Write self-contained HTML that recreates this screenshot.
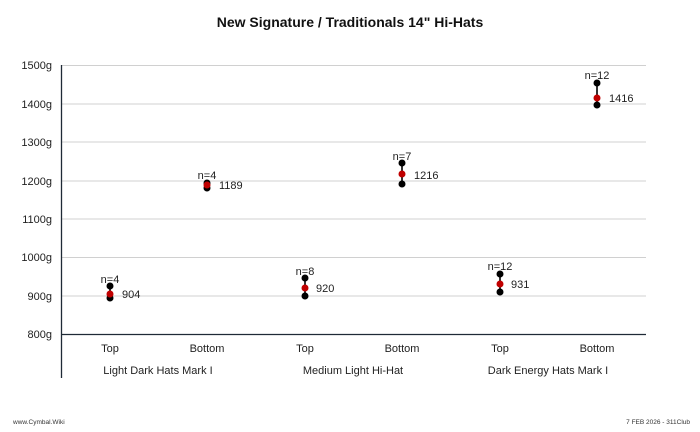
<!DOCTYPE html>
<html><head><style>
body{margin:0;background:#fff;}
svg text{font-family:"Liberation Sans",sans-serif;}
</style></head><body>
<svg width="700" height="427" xmlns="http://www.w3.org/2000/svg">
<text x="350" y="27" text-anchor="middle" font-size="14" font-weight="bold" fill="#111">New Signature / Traditionals 14" Hi-Hats</text>
<g stroke="#d0d0d0" stroke-width="1">
<line x1="61" x2="646" y1="65.5" y2="65.5"/>
<line x1="61" x2="646" y1="104" y2="104"/>
<line x1="61" x2="646" y1="142" y2="142"/>
<line x1="61" x2="646" y1="181" y2="181"/>
<line x1="61" x2="646" y1="219" y2="219"/>
<line x1="61" x2="646" y1="257.5" y2="257.5"/>
<line x1="61" x2="646" y1="296" y2="296"/>
</g>
<line x1="61" x2="646" y1="334.5" y2="334.5" stroke="#1f2a36" stroke-width="1.3"/>
<line x1="61.5" x2="61.5" y1="65" y2="378" stroke="#1f2a36" stroke-width="1.3"/>
<g font-size="11" fill="#222" text-anchor="end">
<text x="52" y="69">1500g</text><text x="52" y="108">1400g</text><text x="52" y="146">1300g</text>
<text x="52" y="185">1200g</text><text x="52" y="223">1100g</text><text x="52" y="261">1000g</text>
<text x="52" y="300">900g</text><text x="52" y="338">800g</text>
</g>
<g font-size="11" fill="#222" text-anchor="middle">
<text x="110" y="352">Top</text><text x="207" y="352">Bottom</text>
<text x="305" y="352">Top</text><text x="402" y="352">Bottom</text>
<text x="500" y="352">Top</text><text x="597" y="352">Bottom</text>
<text x="158" y="374">Light Dark Hats Mark I</text>
<text x="353" y="374">Medium Light Hi-Hat</text>
<text x="548" y="374">Dark Energy Hats Mark I</text>
</g>
<g stroke="#333" stroke-width="2">
<line x1="110" x2="110" y1="286" y2="298"/>
<line x1="207" x2="207" y1="183" y2="188"/>
<line x1="305" x2="305" y1="278" y2="296"/>
<line x1="402" x2="402" y1="163" y2="184"/>
<line x1="500" x2="500" y1="274" y2="292"/>
<line x1="597" x2="597" y1="83" y2="105"/>
</g>
<g fill="#000">
<circle cx="110" cy="286" r="3.5"/><circle cx="110" cy="298" r="3.5"/>
<circle cx="207" cy="183" r="3.5"/><circle cx="207" cy="188" r="3.5"/>
<circle cx="305" cy="278" r="3.5"/><circle cx="305" cy="296" r="3.5"/>
<circle cx="402" cy="163" r="3.5"/><circle cx="402" cy="184" r="3.5"/>
<circle cx="500" cy="274" r="3.5"/><circle cx="500" cy="292" r="3.5"/>
<circle cx="597" cy="83" r="3.5"/><circle cx="597" cy="105" r="3.5"/>
</g>
<g fill="#c00000">
<circle cx="110" cy="294" r="3.5"/><circle cx="207" cy="185" r="3.5"/>
<circle cx="305" cy="288" r="3.5"/><circle cx="402" cy="174" r="3.5"/>
<circle cx="500" cy="284" r="3.5"/><circle cx="597" cy="98" r="3.5"/>
</g>
<g font-size="11" fill="#222">
<text x="122" y="298">904</text><text x="219" y="189">1189</text>
<text x="316" y="292">920</text><text x="414" y="179">1216</text>
<text x="511" y="288">931</text><text x="609" y="102">1416</text>
</g>
<g font-size="11" fill="#222" text-anchor="middle">
<text x="110" y="283">n=4</text><text x="207" y="179">n=4</text>
<text x="305" y="275">n=8</text><text x="402" y="160">n=7</text>
<text x="500" y="270">n=12</text><text x="597" y="79">n=12</text>
</g>
<text x="13" y="424" font-size="6.5" fill="#333">www.Cymbal.Wiki</text>
<text x="690" y="424" font-size="6.5" fill="#333" text-anchor="end">7 FEB 2026 - 311Club</text>
</svg>
</body></html>
